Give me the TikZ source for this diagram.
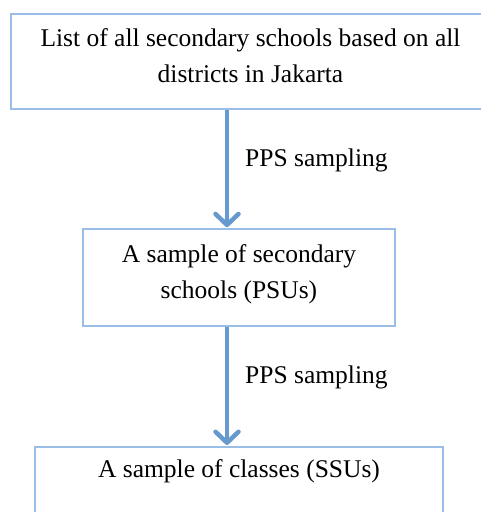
\documentclass[tikz,border=0pt]{standalone}
\usepackage{fontspec}
\setmainfont{Liberation Serif}
\usetikzlibrary{arrows.meta}
\definecolor{boxblue}{RGB}{155,190,230}
\definecolor{arrowblue}{RGB}{102,153,206}
\tikzset{
  stagebox/.style={draw=boxblue, line width=1.6pt, fill=white, align=center, font=\fontsize{25.5}{36}\selectfont, inner sep=0pt},
  flowarrow/.style={draw=arrowblue, line width=4.5pt, -{Straight Barb[length=11pt,width=23pt,line cap=round,line join=round]}, shorten >=1pt},
  steplabel/.style={anchor=west, font=\fontsize{25.5}{30}\selectfont, inner sep=0pt}
}
\begin{document}
\begin{tikzpicture}[x=1pt,y=-1pt]
\useasboundingbox (0,0) rectangle (481,512);
\node[stagebox, minimum width=479pt, minimum height=95pt, text depth=12pt] (b1) at (250.5,61.5) {List of all secondary schools based on all\\districts in Jakarta};
\node[stagebox, minimum width=312pt, minimum height=97pt, text depth=11pt] (b2) at (239,277.5) {A sample of secondary\\schools (PSUs)};
\node[stagebox, anchor=north, minimum width=408pt, text height=31pt, text depth=70pt] (b3) at (239,446) {A sample of classes (SSUs)};
\draw[flowarrow] (b1.south -| 227,0) -- (b2.north -| 227,0);
\draw[flowarrow] (b2.south -| 227,0) -- (b3.north -| 227,0);
\node[steplabel] (l1) at (245,160) {PPS sampling};
\node[steplabel] (l2) at (245,377) {PPS sampling};
\end{tikzpicture}
\end{document}
